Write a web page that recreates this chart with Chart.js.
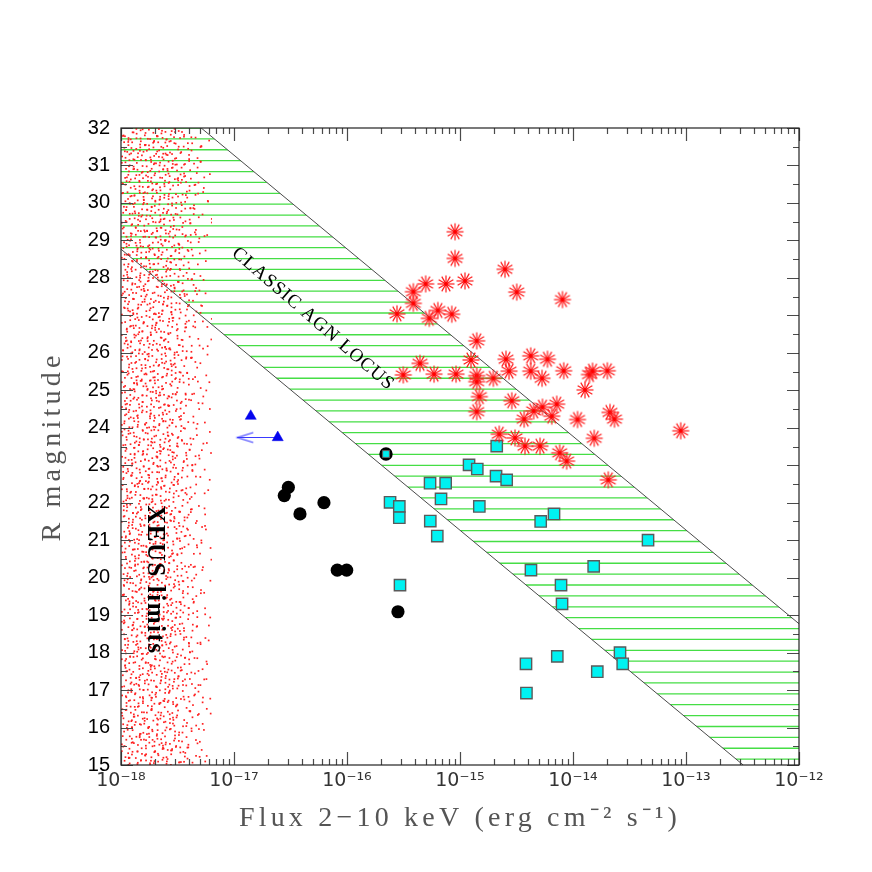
<!DOCTYPE html>
<html><head><meta charset="utf-8">
<script src="https://cdn.jsdelivr.net/npm/chart.js@4"></script>
<style>html,body{margin:0;padding:0;background:#fff}#wrap{width:872px;height:872px}</style>
</head><body><div id="wrap"><canvas id="c"></canvas></div>
<script>
// ---------- data (log10 of 2-10 keV flux, R magnitude) ----------
const xDecades = [1e-18, 1e-17, 1e-16, 1e-15, 1e-14, 1e-13, 1e-12];
const xTickLabels = ['10⁻¹⁸', '10⁻¹⁷', '10⁻¹⁶', '10⁻¹⁵', '10⁻¹⁴', '10⁻¹³', '10⁻¹²'];
const yTickValues = [15,16,17,18,19,20,21,22,23,24,25,26,27,28,29,30,31,32];

const agnLogFlux = [-15.044,-15.044,-14.602,-14.956,-15.124,-15.304,-15.413,-14.498,-14.093,-15.413,-15.558,-15.196,-15.073,-15.272,-14.852,-14.903,-14.593,-14.374,-14.226,-15.354,-15.502,-15.230,-15.035,-14.852,-14.852,-14.705,-14.566,-14.374,-14.274,-14.082,-13.854,-13.827,-13.696,-13.894,-14.829,-14.542,-14.852,-14.348,-14.270,-14.144,-14.432,-14.188,-13.960,-13.673,-13.633,-13.047,-14.653,-14.513,-14.425,-14.292,-13.812,-14.118,-14.056,-13.688];
const agnR = [29.23,28.52,28.23,27.92,27.84,27.84,27.63,27.62,27.42,27.32,27.04,27.13,27.03,26.92,26.32,25.81,25.83,25.92,25.83,25.72,25.41,25.43,25.43,25.39,25.23,25.32,25.51,25.51,25.32,25.52,25.42,25.51,25.52,25.01,24.83,24.72,24.43,24.45,24.55,24.63,24.23,24.31,24.22,24.41,24.23,23.92,23.83,23.73,23.51,23.51,23.72,23.33,23.11,22.61];

const sqLogFlux = [-14.675,-14.920,-14.847,-14.681,-14.587,-15.265,-15.127,-15.168,-15.619,-15.537,-14.829,-15.537,-15.263,-14.286,-15.201,-14.372,-15.531,-14.168,-13.336,-13.817,-14.106,-14.097,-13.584,-13.560,-14.139,-14.416,-13.785,-14.412];
const sqR = [23.51,23.01,22.90,22.71,22.61,22.52,22.52,22.10,22.01,21.90,21.90,21.60,21.51,21.50,21.11,20.20,19.80,21.70,21.00,20.30,19.80,19.30,18.00,17.70,17.90,17.70,17.49,16.92];

const ringLogFlux = [-15.655];
const ringR = [23.30];

const dotLogFlux = [-16.519,-16.555,-16.416,-16.204,-16.086,-16.003,-15.549];
const dotR = [22.41,22.19,21.70,22.00,20.20,20.20,19.09];

const triLogFlux = [-16.852,-16.613];
const triR = [24.31,23.74];

const arrowLogFlux = [-16.613,-16.971];
const arrowR = [23.74,23.74];

const locusUpperLogFlux = [-17.29,-12.0];
const locusUpperR = [32.0,18.77];
const locusLowerLogFlux = [-18.0,-12.494];
const locusLowerR = [28.765,15.0];

const xeusLogFlux = [-18.0,-17.195];
const xeusR = [32.0,32.0];

// ---------- helpers ----------
const pts = (lf, r) => lf.map((v, i) => ({x: Math.pow(10, v), y: r[i]}));

function starImage() {
  const s = 20, c = document.createElement('canvas'); c.width = c.height = s;
  const g = c.getContext('2d'); g.strokeStyle = '#ff1a1a'; g.lineWidth = 1.2;
  const r = 8.5, m = s / 2;
  for (let k = 0; k < 6; k++) {
    const a = k * Math.PI / 6;
    g.beginPath(); g.moveTo(m - r * Math.cos(a), m - r * Math.sin(a));
    g.lineTo(m + r * Math.cos(a), m + r * Math.sin(a)); g.stroke();
  }
  g.fillStyle = '#ff0000'; g.beginPath(); g.arc(m, m, 1.9, 0, 2 * Math.PI); g.fill();
  return c;
}
function ringImage() {
  const s = 18, c = document.createElement('canvas'); c.width = c.height = s;
  const g = c.getContext('2d'); const m = s / 2;
  g.strokeStyle = '#000'; g.lineWidth = 2.6; g.beginPath(); g.arc(m, m, 5.4, 0, 2 * Math.PI); g.stroke();
  g.fillStyle = '#00f0f0'; g.fillRect(m - 3.4, m - 3.4, 6.8, 6.8);
  g.strokeStyle = '#555'; g.lineWidth = 1; g.strokeRect(m - 3.4, m - 3.4, 6.8, 6.8);
  return c;
}
function arrowHeadImage() {
  const w = 36, h = 14, c = document.createElement('canvas'); c.width = w; c.height = h;
  const g = c.getContext('2d'); g.strokeStyle = '#3a3aff'; g.lineWidth = 1.1;
  g.beginPath(); g.moveTo(w / 2 + 16, h / 2 - 5); g.lineTo(w / 2, h / 2); g.lineTo(w / 2 + 16, h / 2 + 5); g.stroke();
  return c;
}

// stipple texture for the XEUS-limit band (deterministic Halton low-discrepancy layout)
function halton(i, b) { let f = 1, r = 0; while (i > 0) { f /= b; r += f * (i % b); i = Math.floor(i / b); } return r; }
let xeusCache = null;
function xeusPattern(chart) {
  const a = chart.chartArea; const xs = chart.scales.x;
  if (!a || !xs) return 'rgba(0,0,0,0)';
  const x0 = xs.getPixelForValue(Math.pow(10, xeusLogFlux[0]));
  const x1 = xs.getPixelForValue(Math.pow(10, xeusLogFlux[1]));
  const key = [x0, x1, a.top, a.bottom, chart.width, chart.height].join(',');
  if (xeusCache && xeusCache.key === key) return xeusCache.pat;
  const cv = document.createElement('canvas'); cv.width = chart.width; cv.height = chart.height;
  const g = cv.getContext('2d'); g.fillStyle = '#ff2020';
  const w = x1 - x0, h = a.bottom - a.top;
  for (let n = 1; n <= 3200; n++) {
    const u = halton(n, 2), v = halton(n, 3), t = halton(n, 5);
    const jx = (halton(n, 7) - 0.5) * 5, jy = (halton(n, 11) - 0.5) * 5;
    const dens = u < 0.5 ? 1 : Math.max(0.06, 1 - (u - 0.5) / 0.5 * 0.94);
    if (t > dens) continue;
    const px = Math.min(x1 - 1, Math.max(x0, x0 + u * w + jx));
    const py = Math.min(a.bottom - 1, Math.max(a.top, a.top + v * h + jy));
    g.fillRect(px, py, 1.7, 1.7);
  }
  const pat = chart.ctx.createPattern(cv, 'no-repeat');
  xeusCache = {key, pat};
  return pat;
}

// ---------- plugins ----------
const HATCH_STEP = 0.2904;
const hatchPlugin = {
  id: 'hatch',
  beforeDatasetsDraw(chart) {
    const {ctx, chartArea: a, scales: {x, y}} = chart;
    const P = (lf, r) => [x.getPixelForValue(Math.pow(10, lf)), y.getPixelForValue(r)];
    const ext = (p, q, px) => p[1] + (q[1] - p[1]) * (px - p[0]) / (q[0] - p[0]);
    const u0 = P(locusUpperLogFlux[0], locusUpperR[0]), u1 = P(locusUpperLogFlux[1], locusUpperR[1]);
    const l0 = P(locusLowerLogFlux[0], locusLowerR[0]), l1 = P(locusLowerLogFlux[1], locusLowerR[1]);
    const L = a.left - 5, R = a.right + 5;
    ctx.save();
    ctx.beginPath(); ctx.rect(a.left, a.top, a.width, a.height); ctx.clip();
    ctx.beginPath();
    ctx.moveTo(L, ext(u0, u1, L)); ctx.lineTo(R, ext(u0, u1, R));
    ctx.lineTo(R, ext(l0, l1, R)); ctx.lineTo(L, ext(l0, l1, L)); ctx.closePath(); ctx.clip();
    ctx.strokeStyle = '#45de45'; ctx.lineWidth = 1.3;
    for (let r = y.max; r >= y.min - 1e-9; r -= HATCH_STEP) {
      const py = y.getPixelForValue(r);
      ctx.beginPath(); ctx.moveTo(a.left, py); ctx.lineTo(a.right, py); ctx.stroke();
    }
    ctx.restore();
  }
};

// wide letter spacing for the axis titles (drawn by Chart.js itself)
const titleSpacingPlugin = {
  id: 'titleSpacing',
  beforeDraw(chart, args, opts) {
    for (const s of Object.values(chart.scales)) {
      if (s._spacedTitle) continue;
      const orig = s.drawTitle;
      s.drawTitle = function () {
        const c = this.ctx; c.save();
        if ('letterSpacing' in c) c.letterSpacing = opts.spacing;
        orig.call(this); c.restore();
      };
      s._spacedTitle = true;
    }
  }
};

const frameTicksPlugin = {
  id: 'frameTicks',
  afterDraw(chart) {
    const {ctx, chartArea: a, scales: {x, y}} = chart;
    ctx.save();
    ctx.strokeStyle = '#4a4a4a'; ctx.lineWidth = 1.2;
    const major = 13, minor = 6;
    for (const d of xDecades) {
      for (let m = 1; m <= 9; m++) {
        const v = d * m; if (v > x.max * 1.0001) break;
        const px = Math.round(x.getPixelForValue(v)) + 0.5; const len = m === 1 ? major : minor;
        ctx.beginPath(); ctx.moveTo(px, a.bottom); ctx.lineTo(px, a.bottom - len);
        ctx.moveTo(px, a.top); ctx.lineTo(px, a.top + len); ctx.stroke();
      }
    }
    for (let r = y.min; r <= y.max + 1e-9; r += 0.5) {
      const py = Math.round(y.getPixelForValue(r)) + 0.5; const len = Number.isInteger(r) ? 12 : minor;
      ctx.beginPath(); ctx.moveTo(a.left, py); ctx.lineTo(a.left + len, py);
      ctx.moveTo(a.right, py); ctx.lineTo(a.right - len, py); ctx.stroke();
    }
    ctx.strokeStyle = '#222'; ctx.lineWidth = 1.2;
    ctx.strokeRect(a.left, a.top, a.width, a.height);
    ctx.restore();
  }
};

const labelsPlugin = {
  id: 'plotLabels',
  afterDatasetsDraw(chart, args, opts) {
    const {ctx, scales: {x, y}} = chart;
    const u0 = [x.getPixelForValue(Math.pow(10, locusUpperLogFlux[0])), y.getPixelForValue(locusUpperR[0])];
    const u1 = [x.getPixelForValue(Math.pow(10, locusUpperLogFlux[1])), y.getPixelForValue(locusUpperR[1])];
    const slope = Math.atan2(u1[1] - u0[1], u1[0] - u0[0]);
    for (const it of opts.items) {
      ctx.save();
      ctx.translate(x.getPixelForValue(Math.pow(10, it.logFlux)), y.getPixelForValue(it.r));
      ctx.rotate(it.alongLocus ? slope + it.rotation : it.rotation);
      ctx.font = it.font; ctx.fillStyle = it.color;
      if ('letterSpacing' in ctx) ctx.letterSpacing = it.spacing;
      ctx.textAlign = 'center'; ctx.textBaseline = 'middle';
      ctx.fillText(it.text, 0, 0);
      ctx.restore();
    }
  }
};

// ---------- chart ----------
new Chart(document.getElementById('c'), {
  type: 'scatter',
  data: {
    datasets: [
      {label: 'ringed', data: pts(ringLogFlux, ringR), pointStyle: ringImage(), pointRadius: 7},
      {label: 'AGN', data: pts(agnLogFlux, agnR), pointStyle: starImage(), pointRadius: 9},
      {label: 'X-ray sources', data: pts(sqLogFlux, sqR), pointStyle: 'rect', pointRadius: 8,
        backgroundColor: '#00f2f2', borderColor: '#5a5a5a', borderWidth: 1.4},
      {label: 'EROs', data: pts(dotLogFlux, dotR), pointStyle: 'circle', pointRadius: 6.6,
        backgroundColor: '#000', borderColor: '#000', borderWidth: 0},
      {label: 'limits', data: pts(triLogFlux, triR), pointStyle: 'triangle', pointRadius: 6.4,
        backgroundColor: '#0505ee', borderColor: '#0505ee', borderWidth: 0.5},
      {label: 'upper limit', type: 'line', data: pts(arrowLogFlux, arrowR), borderColor: '#3a3aff', borderWidth: 1.1,
        pointStyle: ['circle', arrowHeadImage()], pointRadius: [0, 10], fill: false},
      {label: 'locus upper', type: 'line', data: pts(locusUpperLogFlux, locusUpperR), borderColor: '#4a4a4a',
        borderWidth: 1, pointRadius: 0, fill: false},
      {label: 'locus lower', type: 'line', data: pts(locusLowerLogFlux, locusLowerR), borderColor: '#4a4a4a',
        borderWidth: 1, pointRadius: 0, fill: false},
      {label: 'XEUS limits', type: 'line', data: pts(xeusLogFlux, xeusR), borderWidth: 0, borderColor: 'rgba(0,0,0,0)',
        pointRadius: 0, fill: 'start', backgroundColor: (c) => xeusPattern(c.chart)}
    ]
  },
  options: {
    responsive: true, maintainAspectRatio: false, animation: false, events: [],
    layout: {padding: {top: 128, right: 73, left: 0, bottom: 0}, autoPadding: false},
    plugins: {
      legend: {display: false}, tooltip: {enabled: false},
      titleSpacing: {spacing: '4.2px'},
      plotLabels: {items: [
        {text: 'CLASSIC AGN LOCUS', logFlux: -16.30, r: 26.90, alongLocus: true, rotation: 0.02,
          font: '19px "Liberation Serif"', color: '#000', spacing: '1px'},
        {text: 'XEUS limits', logFlux: -17.70, r: 19.94, alongLocus: false, rotation: Math.PI / 2,
          font: 'bold 25px "Liberation Serif"', color: '#000', spacing: '1.5px'}
      ]}
    },
    scales: {
      x: {
        type: 'logarithmic', position: 'bottom', min: xDecades[0], max: xDecades[xDecades.length - 1],
        afterBuildTicks: (s) => { s.ticks = xDecades.map(v => ({value: v})); },
        afterFit: (s) => { s.height = 107; },
        grid: {display: false, drawTicks: false}, border: {display: false},
        ticks: {autoSkip: false, maxRotation: 0, padding: 5, color: '#333',
          font: {family: '"DejaVu Sans"', size: 19},
          callback: (v) => { const i = xDecades.findIndex(d => Math.abs(d - v) / d < 1e-6); return i >= 0 ? xTickLabels[i] : ''; }},
        title: {display: true, text: 'Flux 2−10 keV (erg cm⁻² s⁻¹)', color: '#555',
          font: {family: '"Liberation Serif"', size: 28}, padding: {top: 0, bottom: 37}}
      },
      y: {
        type: 'linear', position: 'left', min: yTickValues[0], max: yTickValues[yTickValues.length - 1],
        afterBuildTicks: (s) => { s.ticks = yTickValues.map(v => ({value: v})); },
        afterFit: (s) => { s.width = 121; },
        grid: {display: false, drawTicks: false}, border: {display: false},
        ticks: {padding: 11, color: '#000', font: {family: '"Liberation Sans"', size: 20}},
        title: {display: true, text: 'R magnitude', color: '#555',
          font: {family: '"Liberation Serif"', size: 28}, padding: {top: 36, bottom: 0}}
      }
    }
  },
  plugins: [titleSpacingPlugin, hatchPlugin, labelsPlugin, frameTicksPlugin]
});
</script>
</body></html>
